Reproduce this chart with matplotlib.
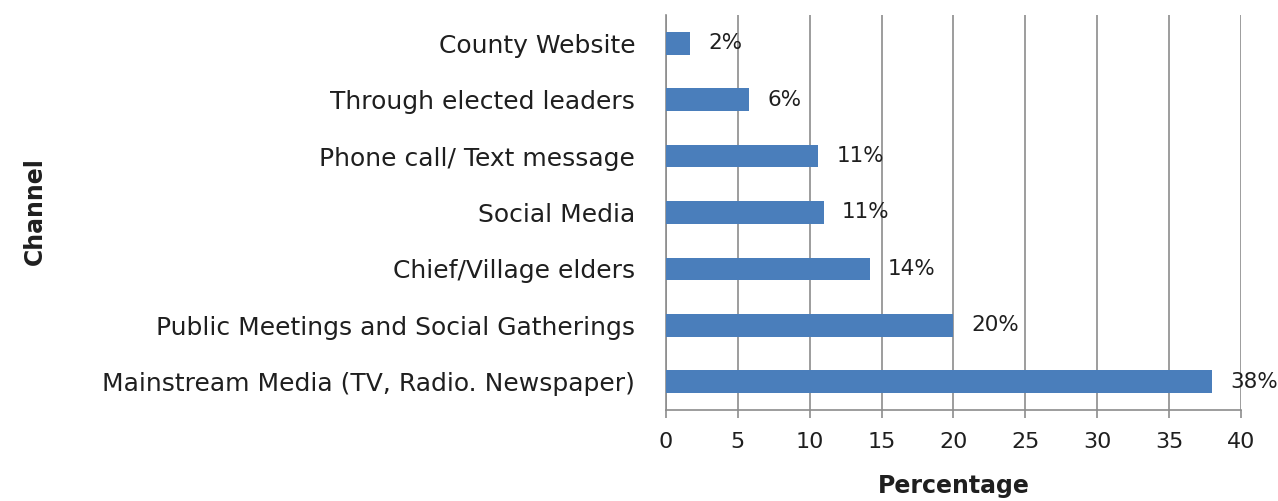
import matplotlib.pyplot as plt

# survey results: share of respondents per information channel
channels = [
    "Mainstream Media (TV, Radio. Newspaper)",
    "Public Meetings and Social Gatherings",
    "Chief/Village elders",
    "Social Media",
    "Phone call/ Text message",
    "Through elected leaders",
    "County Website",
]
percent = [38.0, 20.0, 14.2, 11.0, 10.6, 5.8, 1.7]
x_ticks = [0, 5, 10, 15, 20, 25, 30, 35, 40]

bar_color = "#4A7EBB"
grid_color = "#8C8C8C"
text_color = "#1F1F1F"

plt.rcParams["font.family"] = ["DejaVu Sans"]

fig = plt.figure(figsize=(12.78, 5.01), dpi=100)
ax = fig.add_axes([0.521, 0.182, 0.450, 0.788])

pos = range(len(channels))
ax.barh(pos, percent, height=0.4, color=bar_color, zorder=3)

for y, v in zip(pos, percent):
    ax.annotate(f"{v:.0f}%", (v, y), xytext=(13, 0), textcoords="offset points",
                va="center", ha="left", fontsize=15.5, color=text_color, zorder=4)

ax.set_xlim(0, 40)
ax.set_ylim(-0.5, len(channels) - 0.5)
ax.set_xticks(x_ticks)
ax.set_yticks(list(pos))
ax.set_yticklabels(channels)

ax.xaxis.grid(True, color=grid_color, linewidth=1.2, zorder=0)
for side in ["top", "right"]:
    ax.spines[side].set_visible(False)
for side in ["left", "bottom"]:
    ax.spines[side].set_color(grid_color)
    ax.spines[side].set_linewidth(1.2)

ax.tick_params(axis="y", length=0, pad=22, labelsize=18, labelcolor=text_color)
ax.tick_params(axis="x", length=6, width=1.2, color=grid_color, pad=10,
               labelsize=16, labelcolor=text_color)

ax.set_xlabel("Percentage", fontsize=17, fontweight="bold", color=text_color, labelpad=16)
fig.text(0.027, 0.578, "Channel", rotation=90, ha="center", va="center",
         fontsize=17, fontweight="bold", color=text_color)

fig.savefig("out.png", dpi=100)
